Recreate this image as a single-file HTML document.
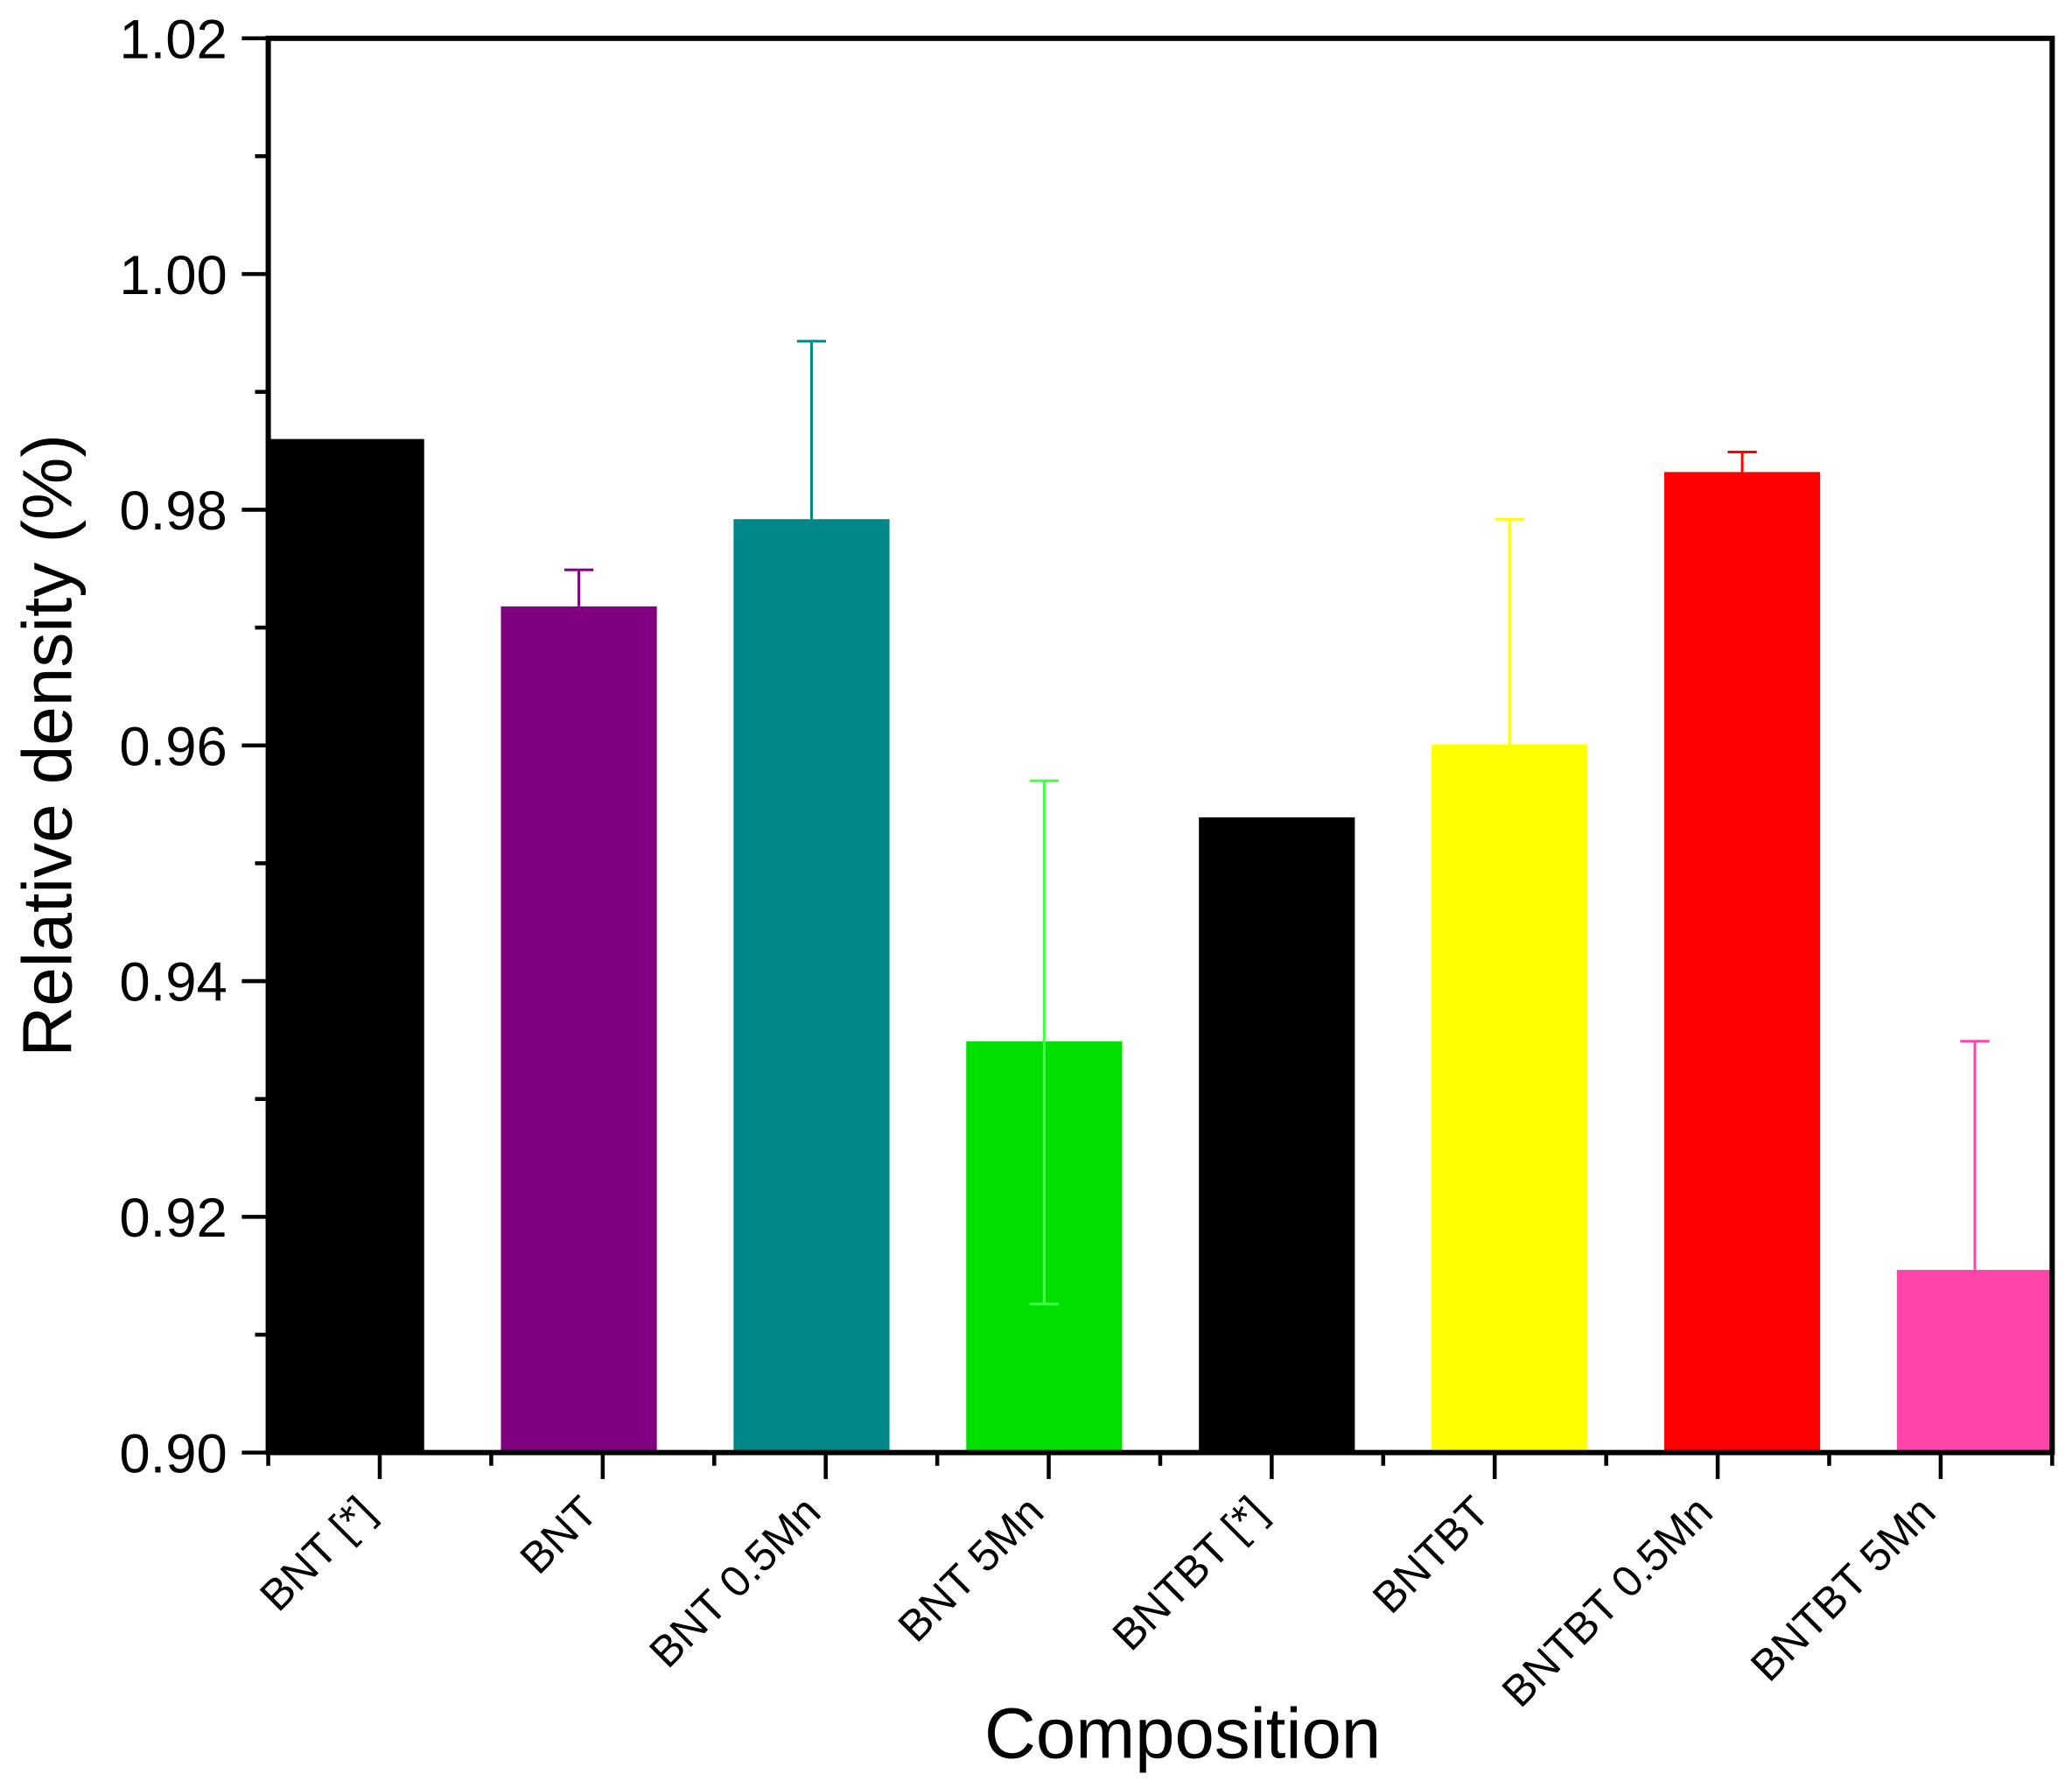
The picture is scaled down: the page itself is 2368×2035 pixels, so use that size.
<!DOCTYPE html>
<html><head><meta charset="utf-8"><style>html,body{margin:0;padding:0;background:#fff}svg{display:block}text{font-family:"Liberation Sans",sans-serif;fill:#000}</style></head>
<body>
<svg id="chart" width="2368" height="2035" viewBox="0 0 1568 1347.5" xmlns="http://www.w3.org/2000/svg">
<g id="marks"></g>
<g id="axes"></g>
</svg>
<script>
const categories = ["BNT [*]","BNT","BNT 0.5Mn","BNT 5Mn","BNTBT [*]","BNTBT","BNTBT 0.5Mn","BNTBT 5Mn"];
const values = [0.986,0.9718,0.9792,0.9349,0.9539,0.9601,0.9832,0.9155];
const errUp = [0,0.0031,0.0151,0.0221,0,0.0191,0.0017,0.0194];
const errDown = [0,0,0,0.0223,0,0,0,0];
const colors = ["#000000","#800080","#008888","#00e000","#000000","#ffff00","#ff0000","#ff44aa"];
const errColors = ["#000000","#800080","#008888","#44ff44","#000000","#ffff00","#ff0000","#ff44aa"];
const yTicks = [0.90,0.92,0.94,0.96,0.98,1.00,1.02];
const yTickLabels = ["0.90","0.92","0.94","0.96","0.98","1.00","1.02"];

const NS="http://www.w3.org/2000/svg";
const L=203,R=1553,T=29,B=1099,yMin=0.90,yMax=1.02;
const y=v=>B-(v-yMin)/(yMax-yMin)*(B-T);
const step=(R-L)/categories.length;
const x=i=>L+step*(i+0.5);
const barW=118, barStart=262, barStep=176.07;
const bx=i=>barStart+barStep*i;
const marks=document.getElementById('marks'), axes=document.getElementById('axes');
function mk(tag,attrs,parent){const e=document.createElementNS(NS,tag);for(const k in attrs)e.setAttribute(k,attrs[k]);parent.appendChild(e);return e;}

categories.forEach((c,i)=>{
  const cx=bx(i);
  const r=mk('rect',{x:cx-barW/2,y:y(values[i]),width:barW,height:B-y(values[i]),fill:colors[i]},marks);
  
  
  if(errUp[i]>0){
    const g=mk('g',{stroke:errColors[i],'stroke-width':2},marks);
    
    
    const top=y(values[i]+errUp[i]);
    const bot=errDown[i]>0?y(values[i]-errDown[i]):y(values[i]);
    mk('line',{x1:cx,x2:cx,y1:top,y2:bot},g);
    mk('line',{x1:cx-11,x2:cx+11,y1:top,y2:top},g);
    if(errDown[i]>0) mk('line',{x1:cx-11,x2:cx+11,y1:bot,y2:bot},g);
  }
  const t=mk('line',{x1:x(i),x2:x(i),y1:B,y2:B+20,stroke:'#000','stroke-width':3},axes);
  
  
  if(i<categories.length-1) mk('line',{x1:L+step*(i+1),x2:L+step*(i+1),y1:B,y2:B+10,stroke:'#000','stroke-width':3},axes);
  const lx=x(i)-2, ly=1146;
  const lab=mk('text',{x:lx,y:ly,'font-size':33,'text-anchor':'end',transform:`rotate(-45 ${lx} ${ly})`},axes);
  lab.textContent=c;
  
  
});
mk('line',{x1:L,x2:L,y1:B,y2:B+10,stroke:'#000','stroke-width':3},axes);
mk('line',{x1:R,x2:R,y1:B,y2:B+10,stroke:'#000','stroke-width':3},axes);

yTicks.forEach((v,i)=>{
  mk('line',{x1:L-20,x2:L,y1:y(v),y2:y(v),stroke:'#000','stroke-width':3},axes);
  if(i<yTicks.length-1){const m=(v+yTicks[i+1])/2;mk('line',{x1:L-10,x2:L,y1:y(m),y2:y(m),stroke:'#000','stroke-width':3},axes);}
  const t=mk('text',{x:172,y:y(v)+15,'font-size':42,'text-anchor':'end'},axes);
  t.textContent=yTickLabels[i];
  
  
});
const frame=mk('rect',{x:L,y:T,width:R-L,height:B-T,fill:'none',stroke:'#000','stroke-width':4},axes);


const yt=mk('text',{x:54,y:564,'font-size':53,'text-anchor':'middle',transform:'rotate(-90 54 564)'},axes);
yt.textContent='Relative density (%)';


const xt=mk('text',{x:895,y:1330,'font-size':54,'text-anchor':'middle'},axes);
xt.textContent='Composition';


</script>
</body></html>
